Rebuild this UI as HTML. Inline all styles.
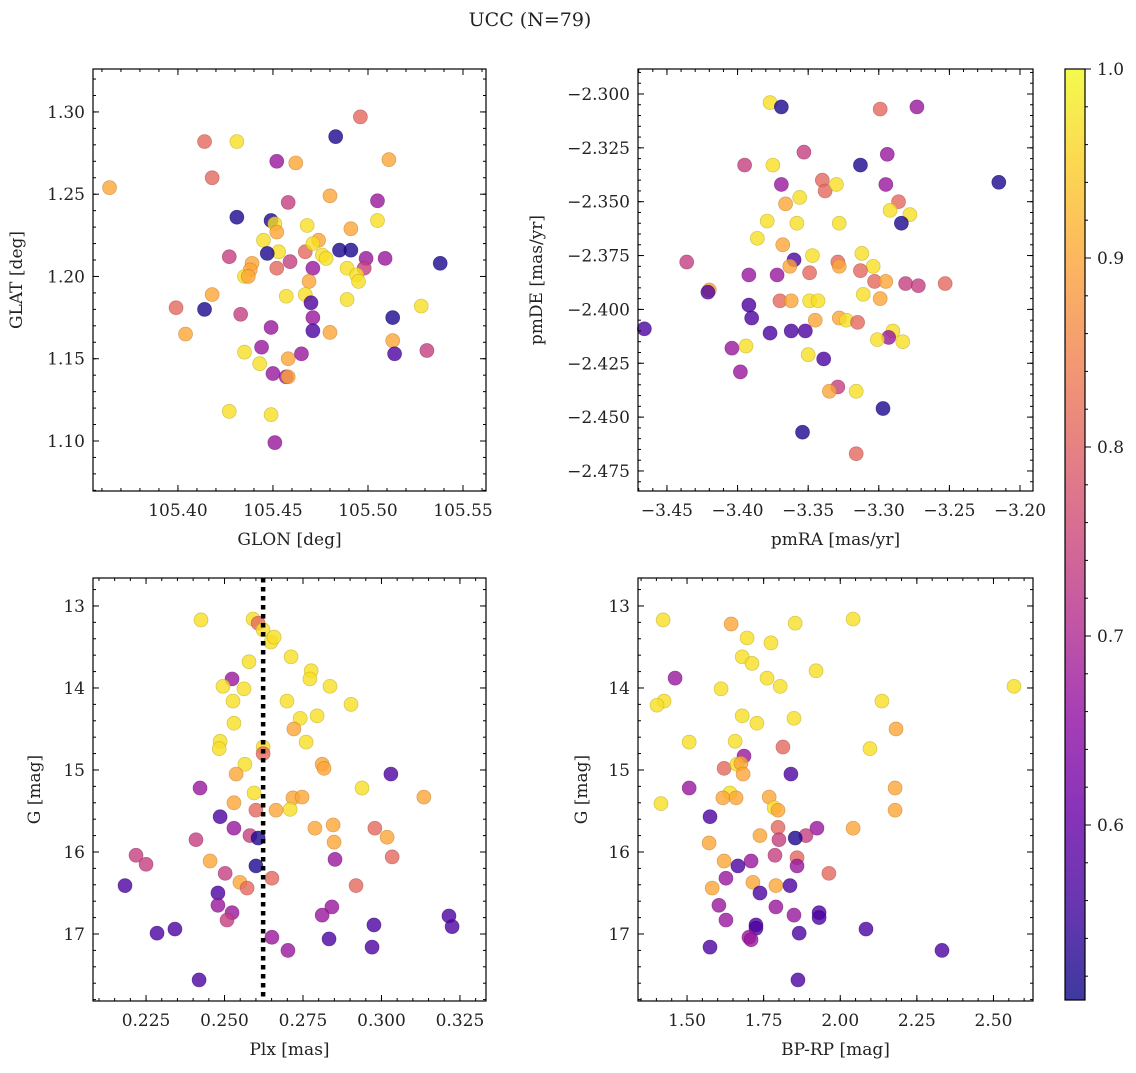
<!DOCTYPE html>
<html><head><meta charset="utf-8">
<style>
html,body{margin:0;padding:0;background:#fff;}
svg text{font-family:"DejaVu Serif","Liberation Serif",serif;fill:#222;}
</style></head>
<body>
<svg id="fig" width="1136" height="1068" viewBox="0 0 1136 1068" xmlns="http://www.w3.org/2000/svg">
<text x="530" y="26" font-size="19" text-anchor="middle">UCC (N=79)</text>
<defs>
<linearGradient id="plasma" x1="0" y1="1" x2="0" y2="0">
<stop offset="0" stop-color="#0d0887"/><stop offset="0.1" stop-color="#41049d"/><stop offset="0.2" stop-color="#6a00a8"/><stop offset="0.3" stop-color="#8f0da4"/><stop offset="0.4" stop-color="#b12a90"/><stop offset="0.5" stop-color="#cc4778"/><stop offset="0.6" stop-color="#e16462"/><stop offset="0.7" stop-color="#f2844b"/><stop offset="0.8" stop-color="#fca636"/><stop offset="0.9" stop-color="#fcce25"/><stop offset="1" stop-color="#f0f921"/>
</linearGradient>
</defs>
</svg>
<script>
// color codes: membership probability
const Y=0.97,O=0.90,S=0.81,P=0.74,M=0.67,V=0.57,B=0.52;
// Panel 1: GLON / GLAT
const glon=[105.364,105.414,105.431,105.418,105.496,105.483,105.511,105.452,105.462,105.480,105.505,105.431,105.449,105.451,105.458,105.468,105.505,105.491,105.452,105.427,105.445,105.453,105.447,105.439,105.438,105.459,105.467,105.474,105.471,105.476,105.478,105.485,105.491,105.499,105.509,105.498,105.489,105.494,105.495,105.452,105.471,105.469,105.467,105.457,105.418,105.435,105.437,105.399,105.414,105.404,105.433,105.470,105.471,105.471,105.480,105.489,105.513,105.528,105.449,105.435,105.444,105.443,105.458,105.465,105.513,105.514,105.531,105.450,105.457,105.458,105.427,105.449,105.451,105.538];
const glat=[1.254,1.282,1.282,1.260,1.297,1.285,1.271,1.270,1.269,1.249,1.246,1.236,1.234,1.232,1.245,1.231,1.234,1.229,1.227,1.212,1.222,1.215,1.214,1.208,1.204,1.209,1.215,1.222,1.220,1.213,1.211,1.216,1.216,1.211,1.211,1.205,1.205,1.201,1.197,1.205,1.205,1.197,1.189,1.188,1.189,1.200,1.200,1.181,1.180,1.165,1.177,1.184,1.175,1.167,1.166,1.186,1.175,1.182,1.169,1.154,1.157,1.147,1.150,1.153,1.161,1.153,1.155,1.141,1.139,1.139,1.118,1.116,1.099,1.208];
const prob1=[O,S,Y,S,S,B,O,M,O,O,M,B,B,Y,P,Y,Y,O,O,P,Y,Y,B,O,O,P,S,O,Y,Y,Y,B,B,M,M,P,Y,Y,Y,S,M,O,Y,Y,O,Y,O,S,B,O,P,V,M,V,O,Y,B,Y,M,Y,M,Y,O,M,O,V,P,M,M,O,Y,Y,M,B];
// Panel 2: pmRA / pmDE
const pmra=[-3.377,-3.369,-3.299,-3.273,-3.395,-3.375,-3.353,-3.313,-3.294,-3.369,-3.340,-3.338,-3.330,-3.295,-3.215,-3.366,-3.356,-3.286,-3.292,-3.278,-3.284,-3.379,-3.358,-3.328,-3.386,-3.368,-3.312,-3.347,-3.329,-3.360,-3.363,-3.328,-3.304,-3.436,-3.392,-3.372,-3.349,-3.313,-3.303,-3.295,-3.281,-3.272,-3.253,-3.420,-3.421,-3.370,-3.362,-3.349,-3.343,-3.311,-3.299,-3.392,-3.390,-3.345,-3.328,-3.323,-3.315,-3.466,-3.377,-3.362,-3.352,-3.290,-3.293,-3.301,-3.283,-3.404,-3.394,-3.350,-3.339,-3.398,-3.329,-3.335,-3.316,-3.297,-3.354,-3.316];
const pmde=[-2.304,-2.306,-2.307,-2.306,-2.333,-2.333,-2.327,-2.333,-2.328,-2.342,-2.340,-2.345,-2.342,-2.342,-2.341,-2.351,-2.348,-2.350,-2.354,-2.356,-2.360,-2.359,-2.360,-2.360,-2.367,-2.370,-2.374,-2.375,-2.378,-2.377,-2.380,-2.380,-2.380,-2.378,-2.384,-2.384,-2.383,-2.382,-2.387,-2.387,-2.388,-2.389,-2.388,-2.391,-2.392,-2.396,-2.396,-2.396,-2.396,-2.393,-2.395,-2.398,-2.404,-2.405,-2.404,-2.405,-2.406,-2.409,-2.411,-2.410,-2.410,-2.410,-2.413,-2.414,-2.415,-2.418,-2.417,-2.421,-2.423,-2.429,-2.436,-2.438,-2.438,-2.446,-2.457,-2.467];
const prob2=[Y,B,S,M,P,Y,P,B,M,M,S,S,Y,M,B,O,Y,S,Y,Y,B,Y,Y,Y,Y,O,Y,Y,S,V,O,O,Y,P,M,M,S,S,S,O,P,P,S,O,V,S,O,Y,Y,Y,O,V,V,O,O,Y,S,V,V,V,V,Y,M,Y,Y,M,Y,Y,V,M,P,O,Y,B,B,S];
// Panel 3: Plx / G
const plx=[0.2425,0.2591,0.2607,0.2623,0.2648,0.2658,0.2578,0.2712,0.2776,0.2772,0.2836,0.2524,0.2495,0.2562,0.2527,0.2699,0.2903,0.2795,0.2741,0.2530,0.2721,0.2486,0.2760,0.2483,0.2623,0.2623,0.2565,0.2811,0.2817,0.2537,0.3030,0.2422,0.2938,0.2594,0.2718,0.2747,0.3135,0.2530,0.2709,0.2664,0.2600,0.2486,0.2530,0.2788,0.2846,0.2979,0.3018,0.2581,0.2607,0.2409,0.2849,0.2218,0.2250,0.2454,0.2852,0.3034,0.2600,0.2502,0.2651,0.2549,0.2572,0.2183,0.2919,0.2479,0.2479,0.2842,0.2524,0.2508,0.2811,0.3215,0.3225,0.2976,0.2342,0.2285,0.2651,0.2833,0.2702,0.2970,0.2419];
const gmag3=[13.17,13.16,13.21,13.29,13.44,13.38,13.68,13.62,13.79,13.89,13.98,13.89,13.98,14.01,14.16,14.16,14.20,14.34,14.37,14.43,14.50,14.65,14.66,14.74,14.72,14.80,14.93,14.93,14.98,15.05,15.05,15.22,15.22,15.28,15.34,15.33,15.33,15.40,15.48,15.49,15.49,15.57,15.71,15.71,15.67,15.71,15.82,15.80,15.83,15.85,15.88,16.04,16.15,16.11,16.09,16.06,16.17,16.26,16.32,16.37,16.44,16.41,16.41,16.50,16.65,16.67,16.74,16.83,16.77,16.78,16.91,16.89,16.94,16.99,17.04,17.06,17.20,17.16,17.56];
const prob3=[Y,Y,S,Y,Y,Y,Y,Y,Y,Y,Y,M,Y,Y,Y,Y,Y,Y,Y,Y,O,Y,Y,Y,Y,S,Y,O,O,O,V,M,Y,Y,O,O,O,O,Y,O,S,V,M,O,O,S,O,P,B,P,O,P,P,O,M,S,B,P,S,O,S,V,S,V,M,M,M,P,M,V,V,V,V,V,M,V,M,V,V];
// Panel 4: BP-RP / G
const bprp=[1.422,1.853,1.644,1.696,1.774,2.042,1.680,1.712,1.921,1.461,1.761,1.804,1.611,2.567,1.425,1.402,2.136,1.680,1.849,1.728,2.182,1.507,1.657,2.097,1.813,1.686,1.621,1.663,1.676,1.683,1.839,1.507,2.179,1.640,1.617,1.660,1.768,1.415,1.784,1.797,2.179,1.575,1.924,2.042,1.797,1.738,1.888,1.853,1.800,1.572,1.787,1.859,1.859,1.621,1.709,1.666,1.963,1.627,1.715,1.790,1.582,1.836,1.738,1.604,1.790,1.931,1.931,1.849,1.627,1.725,1.725,2.084,1.866,1.702,1.709,1.575,2.332,1.862];
const gmag4=[13.17,13.21,13.22,13.39,13.45,13.16,13.62,13.70,13.79,13.88,13.88,13.98,14.01,13.98,14.16,14.21,14.16,14.34,14.37,14.43,14.50,14.66,14.65,14.74,14.72,14.83,14.98,14.93,14.92,15.05,15.05,15.22,15.22,15.28,15.34,15.34,15.33,15.41,15.46,15.49,15.49,15.57,15.71,15.71,15.70,15.80,15.80,15.83,15.85,15.89,16.04,16.07,16.17,16.11,16.11,16.17,16.26,16.32,16.37,16.41,16.44,16.41,16.50,16.65,16.67,16.74,16.80,16.77,16.83,16.89,16.93,16.94,16.99,17.04,17.07,17.16,17.20,17.56];
const prob4=[Y,Y,O,Y,Y,Y,Y,Y,Y,M,Y,Y,Y,Y,Y,Y,Y,Y,Y,Y,O,Y,Y,Y,S,M,S,Y,O,O,V,M,O,Y,O,O,O,Y,Y,O,O,V,M,O,S,O,P,B,P,O,P,S,M,O,M,V,S,M,O,O,O,V,V,M,M,V,V,M,M,V,V,V,V,M,M,V,V,V];
// tick labels
const p1xTicks=[105.40,105.45,105.50,105.55], p1yTicks=[1.10,1.15,1.20,1.25,1.30];
const p2xTicks=[-3.45,-3.40,-3.35,-3.30,-3.25,-3.20], p2yTicks=[-2.300,-2.325,-2.350,-2.375,-2.400,-2.425,-2.450,-2.475];
const p3xTicks=[0.225,0.250,0.275,0.300,0.325], gTicks=[13,14,15,16,17];
const p4xTicks=[1.50,1.75,2.00,2.25,2.50];
const cbTicks=[0.6,0.7,0.8,0.9,1.0];
const plxMedian=0.2623;

const NS="http://www.w3.org/2000/svg";
const svg=document.getElementById('fig');
const VMIN=0.5074,VMAX=1.0;
const stops=[[13,8,135],[65,4,157],[106,0,168],[143,13,164],[177,42,144],[204,71,120],[225,100,98],[242,132,75],[252,166,54],[252,206,37],[240,249,33]];
function plasma(v){let t=Math.max(0,Math.min(1,(v-VMIN)/(VMAX-VMIN)))*10;let i=Math.min(9,Math.floor(t)),f=t-i;const a=stops[i],b=stops[i+1];return a.map((c,k)=>Math.round(c+(b[k]-c)*f));}
function mk(tag,attrs,parent){const e=document.createElementNS(NS,tag);for(const k in attrs)e.setAttribute(k,attrs[k]);(parent||svg).appendChild(e);return e;}

function panel(o){
  const g=mk('g',{});
  
  
  const {x0,x1,y0,y1}=o;
  const sx=v=>x0+(v-o.xmin)/(o.xmax-o.xmin)*(x1-x0);
  const sy=o.invert? (v=>y0+(v-o.ymin)/(o.ymax-o.ymin)*(y1-y0)) : (v=>y1-(v-o.ymin)/(o.ymax-o.ymin)*(y1-y0));
  const pg=mk('g',{},g);
  
  
  for(let i=0;i<o.xs.length;i++){
    const c=plasma(o.cs[i]);
    const d=c.map(v=>Math.round(v*0.75));
    const p=mk('circle',{cx:sx(o.xs[i]),cy:sy(o.ys[i]),r:7,fill:`rgb(${c})`,'fill-opacity':0.8,stroke:`rgb(${d})`,'stroke-opacity':0.6,'stroke-width':0.7},pg);
    
    
  }
  if(o.extra) o.extra(g,sx,sy);
  const tg=mk('g',{stroke:'#000','stroke-width':1},g);
  function xtick(v,len){const x=sx(v);if(x<x0-0.5||x>x1+0.5)return;mk('line',{x1:x,x2:x,y1:y1,y2:y1-len},tg);mk('line',{x1:x,x2:x,y1:y0,y2:y0+len},tg);}
  function ytick(v,len){const y=sy(v);if(y<y0-0.5||y>y1+0.5)return;mk('line',{x1:x0,x2:x0+len,y1:y,y2:y},tg);mk('line',{x1:x1,x2:x1-len,y1:y,y2:y},tg);}
  for(let v=Math.ceil(o.xmin/o.xminor)*o.xminor;v<=o.xmax;v+=o.xminor)xtick(v,3);
  for(let v=Math.ceil(o.ymin/o.yminor)*o.yminor;v<=o.ymax;v+=o.yminor)ytick(v,3);
  o.xt.forEach(v=>{xtick(v,6);const t=mk('text',{x:sx(v),y:y1+25,'font-size':17,'text-anchor':'middle'},g);t.textContent=v.toFixed(o.xd).replace('-','\u2212');});
  o.yt.forEach(v=>{ytick(v,6);const t=mk('text',{x:x0-8,y:sy(v)+6,'font-size':17,'text-anchor':'end'},g);t.textContent=v.toFixed(o.yd).replace('-','\u2212');});
  const fr=mk('rect',{x:x0,y:y0,width:x1-x0,height:y1-y0,fill:'none',stroke:'#000','stroke-width':1.2},g);
  
  const xl=mk('text',{x:(x0+x1)/2,y:y1+54,'font-size':17,'text-anchor':'middle'},g);xl.textContent=o.xlab;
  
  const yx=o.ylx, yy=(y0+y1)/2;
  const yl=mk('text',{x:yx,y:yy,'font-size':17,'text-anchor':'middle',transform:`rotate(-90 ${yx} ${yy})`},g);yl.textContent=o.ylab;
  
}

panel({name:'glon-glat-panel',x0:93,x1:486,y0:69,y1:491,xmin:105.3553,xmax:105.5621,ymin:1.0696,ymax:1.3261,xminor:0.01,yminor:0.01,xt:p1xTicks,yt:p1yTicks,xd:2,yd:2,xs:glon,ys:glat,cs:prob1,xlab:'GLON [deg]',ylab:'GLAT [deg]',ylx:22});
panel({name:'pm-panel',x0:638,x1:1033,y0:69,y1:491,xmin:-3.4705,xmax:-3.1908,ymin:-2.4843,ymax:-2.2884,xminor:0.01,yminor:0.005,xt:p2xTicks,yt:p2yTicks,xd:2,yd:3,xs:pmra,ys:pmde,cs:prob2,xlab:'pmRA [mas/yr]',ylab:'pmDE [mas/yr]',ylx:542});
panel({name:'plx-g-panel',x0:93,x1:486,y0:578,y1:1001,xmin:0.2081,xmax:0.3333,ymin:12.659,ymax:17.817,invert:true,xminor:0.005,yminor:0.2,xt:p3xTicks,yt:gTicks,xd:3,yd:0,xs:plx,ys:gmag3,cs:prob3,xlab:'Plx [mas]',ylab:'G [mag]',ylx:40,
 extra:(g,sx,sy)=>{const l=mk('line',{x1:sx(plxMedian),x2:sx(plxMedian),y1:578,y2:1001,stroke:'#000','stroke-width':4.5,'stroke-dasharray':'4.5,4.5'},g);}});
panel({name:'cmd-panel',x0:638,x1:1033,y0:578,y1:1001,xmin:1.340,xmax:2.629,ymin:12.659,ymax:17.817,invert:true,xminor:0.05,yminor:0.2,xt:p4xTicks,yt:gTicks,xd:2,yd:0,xs:bprp,ys:gmag4,cs:prob4,xlab:'BP-RP [mag]',ylab:'G [mag]',ylx:587});

(function(){
  const x0=1065,x1=1085,y0=69,y1=1000;
  const g=mk('g',{});
  
  
  mk('rect',{x:x0,y:y0,width:x1-x0,height:y1-y0,fill:'url(#plasma)','fill-opacity':0.8},g);
  mk('rect',{x:x0,y:y0,width:x1-x0,height:y1-y0,fill:'none',stroke:'#000','stroke-width':1.2},g);
  const sy=v=>y1-(v-VMIN)/(VMAX-VMIN)*(y1-y0);
  for(let v=0.52;v<=1.0001;v+=0.02){mk('line',{x1:x1,x2:x1+3,y1:sy(v),y2:sy(v),stroke:'#000'},g);}
  cbTicks.forEach(v=>{mk('line',{x1:x1,x2:x1+6,y1:sy(v),y2:sy(v),stroke:'#000'},g);const t=mk('text',{x:x1+12,y:sy(v)+6,'font-size':17},g);t.textContent=v.toFixed(1);});
})();
</script>
</body></html>
